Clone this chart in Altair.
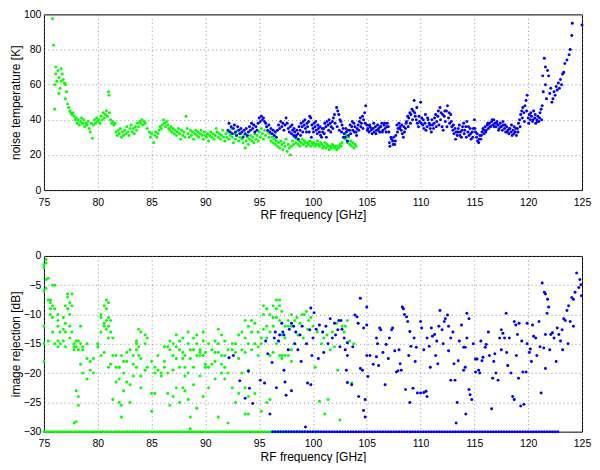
import altair as alt
import pandas as pd

# noise temperature [K] vs RF frequency [GHz]
green_temp = [
    (75.8, 97.5), (75.9, 82.5), (76.0, 46), (76.0, 60), (76.1, 70), (76.1, 66), (76.2, 62), (76.3, 68),
    (76.4, 64), (76.4, 55), (76.5, 58), (76.6, 69), (76.6, 62), (76.7, 66), (76.8, 63), (76.9, 61),
    (77.0, 52), (77.0, 60), (77.1, 56), (77.2, 49), (77.3, 47), (77.4, 45), (77.5, 44), (77.6, 43),
    (77.7, 44), (77.8, 42), (77.9, 40), (78.0, 41), (78.1, 38), (78.2, 40), (78.3, 37), (78.4, 39),
    (78.5, 41), (78.6, 38), (78.7, 40), (78.8, 36), (78.9, 38), (79.0, 37), (79.1, 39), (79.2, 35),
    (79.3, 33), (79.4, 38), (79.5, 29.5), (79.6, 37), (79.7, 40), (79.8, 38), (79.9, 41), (80.0, 39),
    (80.1, 40), (80.2, 38), (80.3, 42), (80.4, 40), (80.5, 44), (80.6, 41), (80.7, 43), (80.8, 45),
    (80.9, 42), (81.0, 56), (81.05, 54), (81.1, 44), (81.2, 40), (81.3, 38), (81.4, 39), (81.5, 37),
    (81.6, 38), (81.7, 33), (81.8, 31), (81.9, 34), (82.0, 32), (82.1, 35), (82.2, 30), (82.3, 33),
    (82.4, 31), (82.5, 34), (82.6, 32), (82.7, 36), (82.8, 33), (82.9, 31), (83.0, 35), (83.1, 37),
    (83.2, 33), (83.3, 35), (83.4, 32), (83.5, 36), (83.6, 34), (83.7, 38), (83.8, 36), (83.9, 39),
    (84.0, 38), (84.1, 40), (84.2, 37), (84.3, 39), (84.4, 38), (84.6, 35), (84.8, 33), (84.9, 30),
    (85.0, 32), (85.2, 27), (85.3, 31), (85.4, 33), (85.5, 30), (85.6, 32), (85.7, 34), (85.8, 36),
    (85.9, 35), (86.0, 37), (86.1, 40), (86.2, 38), (86.3, 36), (86.4, 39), (86.5, 37), (86.6, 35),
    (86.7, 34), (86.8, 36), (86.9, 33), (87.0, 35), (87.1, 32), (87.2, 34), (87.3, 31), (87.4, 33),
    (87.5, 35), (87.6, 32), (87.7, 29), (87.8, 34), (87.9, 31), (88.0, 33), (88.1, 30), (88.2, 42),
    (88.3, 35), (88.4, 32), (88.5, 30), (88.6, 34), (88.7, 31), (88.8, 33), (88.9, 29), (89.0, 32),
    (89.1, 34), (89.2, 31), (89.3, 33), (89.4, 30), (89.5, 32), (89.6, 34), (89.7, 31), (89.8, 29),
    (89.9, 33), (90.0, 31), (90.1, 30), (90.2, 32), (90.3, 28), (90.4, 31), (90.5, 33), (90.6, 30),
    (90.7, 32), (90.8, 29), (90.9, 31), (91.0, 35), (91.1, 33), (91.2, 30), (91.3, 32), (91.4, 29),
    (91.5, 31), (91.6, 34), (91.7, 30), (91.8, 28), (91.9, 32), (92.0, 30), (92.1, 33), (92.2, 29),
    (92.3, 31), (92.4, 35), (92.5, 30), (92.6, 27), (92.7, 32), (92.8, 29), (92.9, 31), (93.0, 34),
    (93.1, 28), (93.2, 30), (93.3, 32), (93.4, 29), (93.5, 27), (93.6, 31), (93.7, 24), (93.8, 28),
    (93.9, 30), (94.0, 26), (94.1, 29), (94.2, 31), (94.3, 28), (94.4, 30), (94.5, 27), (94.6, 32),
    (94.7, 29), (94.8, 31), (94.9, 28), (95.0, 33), (95.1, 30), (95.2, 35), (95.3, 32), (95.4, 29),
    (95.5, 34), (95.6, 31), (95.7, 36), (95.8, 33), (95.9, 30), (96.0, 32), (96.1, 28), (96.2, 30),
    (96.3, 27), (96.4, 29), (96.5, 26), (96.6, 28), (96.7, 25), (96.8, 27), (96.9, 24), (97.0, 28),
    (97.1, 26), (97.2, 23), (97.3, 27), (97.4, 25), (97.5, 29), (97.6, 22), (97.7, 26), (97.8, 24),
    (97.9, 20), (98.0, 25), (98.1, 28), (98.2, 26), (98.3, 30), (98.4, 27), (98.5, 29), (98.6, 26),
    (98.7, 28), (98.8, 25), (98.9, 27), (99.0, 29), (99.1, 26), (99.2, 28), (99.3, 27), (99.4, 25),
    (99.5, 27), (99.6, 26), (99.7, 28), (99.8, 25), (99.9, 27), (100.0, 26), (100.1, 27), (100.2, 25),
    (100.3, 26), (100.4, 28), (100.5, 26), (100.6, 25), (100.7, 27), (100.8, 26), (100.9, 24), (101.0, 25),
    (101.1, 27), (101.2, 24), (101.3, 26), (101.4, 25), (101.5, 23), (101.6, 25), (101.7, 24), (101.8, 26),
    (101.9, 25), (102.0, 24), (102.1, 25), (102.2, 23), (102.3, 25), (102.4, 24), (102.5, 26), (102.6, 25),
    (102.7, 27), (102.8, 30), (102.9, 32), (103.0, 29), (103.1, 31), (103.2, 27), (103.3, 30), (103.4, 26),
    (103.5, 28), (103.6, 25), (103.7, 27), (103.8, 24), (103.9, 26), (104.0, 25),
]

blue_temp = [
    (92.1, 34), (92.2, 38), (92.3, 33), (92.4, 36), (92.5, 32), (92.6, 35), (92.7, 37), (92.8, 33),
    (92.9, 31), (93.0, 36), (93.1, 34), (93.2, 32), (93.3, 35), (93.4, 33), (93.5, 30), (93.6, 34),
    (93.7, 32), (93.8, 35), (93.9, 31), (94.0, 33), (94.1, 36), (94.2, 34), (94.3, 38), (94.4, 35),
    (94.5, 37), (94.6, 33), (94.7, 36), (94.8, 34), (94.9, 38), (95.0, 41), (95.1, 39), (95.2, 42),
    (95.3, 40), (95.4, 41), (95.5, 39), (95.6, 38), (95.7, 36), (95.8, 34), (95.9, 37), (96.0, 33),
    (96.1, 35), (96.2, 32), (96.3, 34), (96.4, 31), (96.5, 33), (96.6, 30), (96.7, 34), (96.8, 37),
    (96.9, 35), (97.0, 39), (97.1, 36), (97.2, 38), (97.3, 34), (97.4, 37), (97.5, 41), (97.6, 38),
    (97.7, 35), (97.8, 33), (97.9, 36), (98.0, 32), (98.1, 34), (98.2, 31), (98.3, 33), (98.4, 30),
    (98.5, 34), (98.6, 32), (98.7, 36), (98.8, 34), (98.9, 38), (99.0, 36), (99.1, 39), (99.2, 37),
    (99.3, 35), (99.4, 33), (99.5, 36), (99.6, 39), (99.7, 42), (99.8, 41), (99.9, 37), (100.0, 35),
    (100.1, 38), (100.2, 36), (100.3, 34), (100.4, 32), (100.5, 35), (100.6, 33), (100.7, 31), (100.8, 30),
    (100.9, 33), (101.0, 35), (101.1, 38), (101.2, 36), (101.3, 39), (101.4, 37), (101.5, 40), (101.6, 38),
    (101.7, 36), (101.8, 39), (101.9, 41), (102.0, 43), (102.2, 47), (102.3, 45), (102.4, 43), (102.5, 40),
    (102.6, 39), (102.7, 37), (102.8, 35), (102.9, 32), (103.0, 30), (103.1, 33), (103.2, 28), (103.3, 31),
    (103.4, 34), (103.5, 32), (103.6, 36), (103.7, 34), (103.8, 38), (103.9, 36), (104.0, 33), (104.1, 35),
    (104.2, 37), (104.3, 39), (104.4, 41), (104.5, 38), (104.6, 42), (104.7, 40), (104.8, 44), (104.9, 48),
    (105.0, 37), (105.1, 35), (105.2, 33), (105.3, 36), (105.4, 34), (105.5, 32), (105.6, 35), (105.7, 33),
    (105.8, 36), (105.9, 34), (106.0, 37), (106.1, 35), (106.2, 33), (106.3, 36), (106.4, 38), (106.5, 34),
    (106.6, 37), (106.7, 35), (106.8, 33), (106.9, 38), (107.0, 36), (107.1, 27), (107.15, 25), (107.3, 29),
    (107.4, 28), (107.5, 30), (107.6, 26), (107.7, 31), (107.8, 37), (107.9, 35), (108.0, 38), (108.1, 36),
    (108.2, 34), (108.3, 32), (108.4, 30), (108.5, 33), (108.6, 35), (108.7, 39), (108.8, 42), (108.9, 41),
    (109.0, 44), (109.1, 43), (109.2, 46), (109.3, 45), (109.4, 51), (109.5, 42), (109.6, 40), (109.7, 38),
    (109.8, 36), (109.9, 39), (110.0, 50), (110.1, 41), (110.2, 37), (110.3, 35), (110.4, 38), (110.5, 34),
    (110.6, 36), (110.7, 40), (110.8, 38), (110.9, 35), (111.0, 33), (111.1, 37), (111.2, 35), (111.3, 41),
    (111.4, 43), (111.5, 39), (111.6, 42), (111.7, 37), (111.8, 47), (111.9, 44), (112.0, 36), (112.1, 34),
    (112.2, 42), (112.3, 39), (112.4, 45), (112.5, 48), (112.6, 41), (112.7, 38), (112.8, 43), (112.9, 36),
    (113.0, 34), (113.1, 32), (113.2, 35), (113.3, 33), (113.4, 31), (113.5, 35), (113.6, 37), (113.7, 33),
    (113.8, 30), (113.9, 36), (114.0, 38), (114.1, 34), (114.2, 36), (114.3, 39), (114.4, 33), (114.5, 31),
    (114.6, 35), (114.7, 29), (114.8, 33), (114.9, 35), (115.0, 40), (115.1, 33), (115.2, 30), (115.3, 28),
    (115.4, 27), (115.5, 31), (115.6, 29), (115.7, 33), (115.8, 35), (115.9, 32), (116.0, 36), (116.1, 34),
    (116.2, 37), (116.3, 35), (116.4, 38), (116.5, 36), (116.6, 39), (116.7, 37), (116.8, 40), (116.9, 38),
    (117.0, 36), (117.1, 39), (117.2, 37), (117.3, 35), (117.4, 38), (117.5, 36), (117.6, 34), (117.7, 37),
    (117.8, 35), (117.9, 33), (118.0, 36), (118.1, 34), (118.2, 32), (118.3, 35), (118.4, 33), (118.5, 31),
    (118.6, 34), (118.7, 36), (118.8, 33), (118.9, 31), (119.0, 35), (119.1, 38), (119.2, 40), (119.3, 43),
    (119.4, 45), (119.5, 47), (119.6, 44), (119.7, 48), (119.8, 51), (119.9, 54), (120.0, 41), (120.1, 43),
    (120.2, 40), (120.3, 42), (120.4, 39), (120.5, 45), (120.6, 41), (120.7, 38), (120.8, 40), (120.9, 42),
    (121.0, 39), (121.1, 44), (121.2, 46), (121.3, 48), (121.35, 65), (121.4, 56), (121.5, 75), (121.6, 70),
    (121.6, 60), (121.7, 52), (121.8, 68), (121.9, 65), (122.0, 55), (122.1, 58), (122.2, 50), (122.3, 52),
    (122.4, 56), (122.5, 54), (122.6, 59), (122.7, 57), (122.8, 61), (122.9, 58), (123.0, 63), (123.1, 60),
    (123.2, 66), (123.3, 67), (123.4, 72), (123.6, 74), (123.8, 77), (123.9, 80), (124.05, 88), (124.1, 95),
    (125.0, 94),
]

# second pass of blue sweep points, read between the first ones
blue_temp_extra = [
    (98.05, 37), (98.25, 35), (98.45, 31), (98.65, 29), (98.85, 31), (99.05, 33), (99.25, 40), (99.45, 38),
    (99.65, 33), (99.85, 30), (100.05, 33), (100.25, 39), (100.45, 37), (100.65, 36), (100.85, 35), (101.05, 32),
    (101.25, 30), (101.45, 34), (101.65, 33), (101.85, 35), (102.05, 38), (102.25, 36), (102.45, 34), (102.65, 33),
    (102.85, 30), (103.05, 35), (103.25, 34), (103.45, 37), (103.65, 39), (103.85, 33), (104.05, 31), (104.25, 34),
    (104.45, 36), (104.65, 35), (104.85, 38), (105.05, 34), (105.25, 37), (105.45, 35), (105.65, 38), (105.85, 32),
    (106.05, 34), (106.25, 36), (106.45, 33), (106.65, 38), (106.85, 36), (107.05, 33), (107.25, 30), (107.45, 26),
    (107.65, 28), (107.85, 33), (108.05, 35), (108.25, 37), (108.45, 36), (108.65, 38), (108.85, 36), (109.05, 38),
    (109.25, 40), (109.45, 44), (109.65, 47), (109.85, 42), (110.05, 38), (110.25, 40), (110.45, 43), (110.65, 41),
    (110.85, 37), (111.05, 40), (111.25, 38), (111.45, 36), (111.65, 45), (111.85, 40), (112.05, 43), (112.25, 45),
    (112.45, 36), (112.65, 44), (112.85, 39), (113.05, 37), (113.25, 29), (113.45, 33), (113.65, 31), (113.85, 34),
    (114.05, 32), (114.25, 30), (114.45, 36), (114.65, 32), (114.85, 30), (115.05, 35), (115.25, 32), (115.45, 29),
    (115.65, 31), (115.85, 34), (116.05, 33), (116.25, 38), (116.45, 36), (116.65, 40), (116.85, 36), (117.05, 38),
    (117.25, 34), (117.45, 36), (117.65, 39), (117.85, 37), (118.05, 33), (118.25, 35), (118.45, 37), (118.65, 32),
    (118.85, 35), (119.05, 33), (119.25, 36), (119.45, 41), (119.65, 39), (119.85, 45), (120.05, 38), (120.25, 44),
    (120.45, 40), (120.65, 43), (120.85, 39), (121.05, 41), (121.25, 40),
]

# image rejection [dB] vs RF frequency [GHz]
green_rej = [
    (75.0, -2), (75.0, -1.5), (75.0, -6), (75.0, -12), (75.0, -15), (75.0, -18), (75.2, -0.6), (75.2, -1.2),
    (75.2, -4), (75.2, -5.5), (75.4, -3.8), (75.4, -7.5), (75.4, -14.5), (75.6, -7.5), (75.6, -8), (75.6, -9),
    (75.6, -10), (75.8, -5), (75.8, -8.5), (75.8, -10.5), (75.8, -13), (76.0, -5), (76.0, -9), (76.0, -15),
    (76.3, -10), (76.3, -11), (76.3, -12), (76.3, -14.5), (76.3, -15.5), (76.5, -13), (76.5, -15), (76.8, -10.5),
    (76.8, -14.5), (76.8, -12.5), (77.0, -8.5), (77.0, -11.5), (77.0, -13), (77.0, -15.5), (77.2, -6.5), (77.2, -7),
    (77.2, -9), (77.4, -8), (77.4, -10), (77.4, -12), (77.4, -14), (77.6, -6.5), (77.6, -8.5), (77.6, -13),
    (77.8, -15), (77.8, -15.5), (77.8, -16), (77.8, -28.5), (78.0, -14.5), (78.0, -15.5), (78.0, -28.3), (78.0, -23),
    (78.2, -24), (78.2, -25.5), (78.2, -14.5), (78.2, -16), (78.4, -15), (78.4, -18.5), (78.4, -12), (78.6, -16),
    (78.6, -20), (78.6, -15.5), (79.0, -17.5), (79.0, -21), (79.0, -15), (79.3, -18), (79.3, -19.5), (79.6, -17.5),
    (79.6, -20), (80.0, -15), (80.0, -15.5), (80.3, -10), (80.3, -10.5), (80.3, -13), (80.3, -17), (80.6, -8.5),
    (80.6, -11.5), (80.6, -12), (80.6, -16.5), (80.8, -9), (80.8, -11), (80.8, -12.5), (80.8, -7.5), (81.0, -8),
    (81.0, -10.5), (81.0, -12), (81.0, -14), (81.0, -19), (81.2, -11), (81.2, -13), (81.2, -18.5), (81.4, -14),
    (81.4, -17), (81.4, -24.5), (81.7, -17), (81.7, -19), (81.7, -21.5), (82.0, -19), (82.0, -21), (82.0, -25),
    (82.2, -17), (82.2, -25.5), (82.2, -27.5), (82.4, -18), (82.4, -20), (82.4, -23), (82.7, -16.5), (82.7, -18),
    (82.7, -21.5), (83.0, -16), (83.0, -22), (83.0, -25), (83.3, -17), (83.3, -18.5), (83.3, -20.5), (83.6, -14.5),
    (83.6, -15), (83.6, -16), (83.6, -19), (83.8, -12.5), (83.8, -15.5), (83.8, -17), (84.0, -13), (84.0, -17.5),
    (84.0, -22.5), (84.0, -20.5), (84.4, -13.5), (84.4, -15), (84.4, -19.5), (84.6, -14), (84.6, -19), (85.0, -18),
    (85.0, -23.5), (85.0, -26.5), (85.3, -19), (85.3, -20), (85.3, -23.5), (85.6, -17), (85.6, -19.5), (85.9, -20),
    (85.9, -20.5), (86.2, -18), (86.2, -19), (86.2, -15.5), (86.5, -15.5), (86.5, -20), (86.5, -23.5), (86.7, -14.5),
    (86.7, -16), (86.7, -25.5), (87.0, -15), (87.0, -17), (87.0, -19.5), (87.0, -24), (87.3, -13.5), (87.3, -15.5),
    (87.3, -17.5), (87.3, -22.5), (87.6, -14.5), (87.6, -16), (87.6, -19), (87.6, -25), (87.9, -14), (87.9, -16.5),
    (87.9, -17.5), (87.9, -22.5), (88.1, -17), (88.1, -19), (88.1, -20.5), (88.1, -23), (88.4, -13), (88.4, -15),
    (88.4, -20), (88.4, -24.5), (88.6, -16), (88.6, -17.5), (88.6, -27.5), (88.6, -29.5), (88.9, -14), (88.9, -16),
    (88.9, -19), (88.9, -22), (89.2, -13.5), (89.2, -15), (89.2, -17), (89.2, -26), (89.5, -16), (89.5, -16.5),
    (89.5, -17), (89.5, -20.5), (89.8, -13), (89.8, -14.5), (89.8, -17), (89.8, -24), (90.0, -16.5), (90.0, -18.5),
    (90.0, -19), (90.3, -15), (90.3, -19), (90.3, -22.5), (90.6, -16), (90.6, -18.5), (90.9, -14.5), (90.9, -16.5),
    (90.9, -18), (90.9, -21), (91.2, -12.5), (91.2, -15), (91.2, -16.5), (91.2, -27.5), (91.5, -13.5), (91.5, -17),
    (91.5, -18.5), (91.5, -20), (91.8, -14.5), (91.8, -17), (91.8, -19), (91.8, -21), (92.1, -16), (92.1, -20),
    (92.1, -28.5), (92.5, -15), (92.5, -16), (92.5, -22.5), (92.8, -15), (92.8, -16.5), (92.8, -25), (93.1, -13.5),
    (93.1, -17.5), (93.1, -23.5), (93.4, -13), (93.4, -16), (93.4, -20), (93.7, -11), (93.7, -14), (93.7, -16.5),
    (93.7, -22.5), (93.7, -27), (94.0, -12), (94.0, -15), (94.0, -19.5), (94.0, -24), (94.0, -27), (94.3, -11),
    (94.3, -13), (94.3, -16), (94.6, -11.5), (94.6, -15), (94.6, -23.5), (94.9, -13), (94.9, -15.5), (94.9, -17),
    (95.2, -14), (95.2, -15), (95.2, -26.5), (95.4, -8.5), (95.4, -10), (95.4, -12.5), (95.7, -9), (95.7, -12),
    (95.7, -14), (95.7, -25), (96.0, -10), (96.0, -13), (96.0, -17), (96.0, -24.5), (96.3, -8.5), (96.3, -10.5),
    (96.3, -12), (96.3, -16.5), (96.6, -7.5), (96.6, -9), (96.6, -10.5), (96.6, -15), (96.9, -7.5), (96.9, -8.5),
    (96.9, -11), (96.9, -17), (97.1, -9.5), (97.1, -13.5), (97.1, -17), (97.1, -17.5), (97.4, -12), (97.4, -14),
    (97.4, -17), (97.7, -11), (97.7, -12), (97.7, -17), (98.0, -10), (98.0, -12), (98.0, -16), (98.0, -18),
    (98.3, -11), (98.5, -10.5), (98.6, -13.5), (98.8, -11.5), (99.0, -10), (99.1, -14), (99.2, -10), (99.4, -9.5),
    (99.5, -12.5), (99.6, -11), (99.8, -10.5), (100.0, -12), (100.2, -19), (100.4, -13), (100.6, -24.8), (100.8, -15),
    (101.0, -14), (101.1, -27), (101.3, -13.5), (101.4, -24.5), (101.6, -16), (101.8, -13), (102.0, -15.5), (102.2, -11.5),
    (102.3, -19.5), (102.5, -28), (102.7, -12), (102.9, -13), (103.0, -12), (103.2, -11), (103.4, -14.5), (103.6, -21.7),
    (103.8, -15),
]

blue_rej = [
    (92.2, -17.4), (92.6, -17), (93.2, -21.3), (93.7, -24.3), (94.0, -19.7), (94.1, -22.6), (94.4, -25.2), (95.1, -21.2),
    (95.5, -21.7), (95.6, -14.5), (95.8, -16.7), (96.0, -27), (96.2, -18.2), (96.4, -14), (96.5, -13), (96.6, -22.5),
    (96.8, -14.5), (96.9, -13.5), (97.1, -11.5), (97.2, -13), (97.3, -13.5), (97.3, -19.5), (97.4, -21.5), (97.5, -23.8),
    (97.7, -16), (97.8, -12.5), (98.0, -23), (98.0, -11.5), (98.2, -12), (98.3, -15), (98.4, -13), (98.6, -16),
    (98.8, -13.5), (98.9, -18), (99.0, -12), (99.3, -29.2), (99.4, -15), (99.5, -21.7), (99.7, -12.6), (99.8, -8.9),
    (99.8, -22), (99.9, -17), (100.0, -14), (100.1, -9.7), (100.3, -12.5), (100.5, -17.5), (100.6, -11.8), (100.9, -13),
    (101.0, -16.5), (101.2, -12), (101.4, -15), (101.6, -10.7), (101.8, -14), (102.0, -11.5), (102.1, -13.5), (102.3, -12.6),
    (102.4, -11), (102.5, -15.5), (102.6, -11), (102.7, -12.5), (102.9, -14), (103.0, -16), (103.1, -19.5), (103.2, -14.8),
    (103.2, -17), (103.2, -21.6), (103.6, -22), (103.7, -15.5), (103.9, -10.1), (104.1, -10.4), (104.2, -11.5), (104.25, -24),
    (104.4, -7.2), (104.4, -19.2), (104.6, -19.5), (104.7, -12.3), (104.7, -26.4), (104.85, -24.5), (104.85, -27.5), (105.0, -8.7),
    (105.0, -11.8), (105.0, -17), (105.1, -20.6), (105.3, -17), (105.6, -18.5), (105.9, -14), (105.9, -17.2), (106.0, -15),
    (106.1, -18.7), (106.2, -12.3), (106.3, -12.6), (106.5, -16.5), (106.7, -22), (106.8, -15.1), (107.0, -17.5), (107.1, -14),
    (107.3, -12.6), (107.4, -12.3), (107.6, -16.2), (107.75, -19.8), (107.9, -19.6), (108.0, -16), (108.1, -18.4), (108.2, -19.5),
    (108.3, -8.7), (108.4, -9), (108.5, -10), (108.6, -22.8), (108.7, -10.4), (108.8, -11.2), (108.9, -17), (109.0, -12.9),
    (109.0, -25), (109.1, -15.4), (109.3, -22.6), (109.4, -14), (109.5, -18), (109.6, -15.6), (109.7, -23.4), (110.0, -11.2),
    (110.0, -23.4), (110.1, -12.3), (110.3, -23.3), (110.3, -16), (110.5, -23.1), (110.6, -24), (110.6, -14), (110.8, -15.4),
    (110.9, -19), (111.0, -12.3), (111.1, -13.7), (111.3, -13.4), (111.4, -17), (111.5, -14.5), (111.6, -18.4), (111.7, -12),
    (111.8, -9.3), (112.0, -12.6), (112.1, -15), (112.2, -11.2), (112.3, -10.7), (112.5, -10.1), (112.6, -12), (112.6, -16.2),
    (112.8, -14), (112.8, -21.2), (113.0, -13), (113.1, -18.4), (113.2, -21.2), (113.3, -28.5), (113.4, -25), (113.5, -17.9),
    (113.6, -14.5), (113.8, -11.8), (114.0, -15.6), (114.0, -19.5), (114.15, -15.6), (114.15, -19), (114.2, -27), (114.3, -9.8),
    (114.3, -14), (114.5, -10.7), (114.5, -22.8), (114.6, -23.7), (114.75, -24.5), (114.9, -15), (115.1, -17.6), (115.1, -19.8),
    (115.25, -17.6), (115.4, -19.5), (115.5, -20), (115.6, -14.5), (115.7, -17.9), (115.8, -17.3), (116.0, -15.6), (116.1, -15.1),
    (116.3, -13), (116.4, -17), (116.6, -26.1), (116.7, -20.9), (116.8, -18), (116.9, -16.7), (117.0, -20), (117.2, -21.2),
    (117.35, -14), (117.5, -12.6), (117.5, -16), (117.65, -13.2), (117.8, -14), (117.95, -9.8), (118.0, -16.5), (118.1, -18.7),
    (118.25, -14), (118.4, -20), (118.55, -24), (118.7, -24.5), (118.7, -11.2), (118.85, -11.8), (118.9, -17), (119.0, -13.4),
    (119.1, -20.9), (119.15, -11.5), (119.3, -25.6), (119.4, -14.5), (119.5, -19.8), (119.6, -25.3), (119.8, -19.8), (119.9, -11.5),
    (119.9, -15), (120.1, -16.5), (120.2, -15.9), (120.3, -18), (120.4, -11.8), (120.5, -13.7), (120.7, -14), (120.8, -17),
    (121.0, -11.2), (121.1, -15.5), (121.2, -23.4), (121.3, -4.6), (121.45, -15.7), (121.5, -6.2), (121.6, -6.5), (121.6, -13.4),
    (121.6, -19.2), (121.75, -9.8), (121.8, -7.4), (121.9, -8.7), (122.0, -16), (122.1, -13.4), (122.25, -13.1), (122.4, -14),
    (122.6, -18), (122.7, -12.3), (122.85, -13.4), (123.0, -14.5), (123.15, -12.6), (123.2, -16), (123.3, -10.7), (123.45, -11),
    (123.6, -9.3), (123.7, -15), (123.75, -8.5), (123.9, -11.2), (124.05, -7.1), (124.2, -7.4), (124.2, -12), (124.35, -6.2),
    (124.5, -2.9), (124.7, -5.4), (124.8, -4), (124.9, -4.9), (124.95, -6.8),
]

# points clipped at the -30 dB floor
floor_db = -30
green_floor = [
    75.0, 75.25, 75.5, 75.75, 76.0, 76.25, 76.5, 76.75, 77.0, 77.25, 77.5, 77.75, 78.0, 78.25, 78.5, 78.75,
    79.0, 79.25, 79.5, 79.75, 80.0, 80.25, 80.5, 80.75, 81.0, 81.25, 81.5, 81.75, 82.0, 82.25, 82.5, 82.75,
    83.0, 83.25, 83.5, 83.75, 84.0, 84.25, 84.5, 84.75, 85.0, 85.25, 85.5, 85.75, 86.0, 86.25, 86.5, 86.75,
    87.0, 87.25, 87.5, 87.75, 88.0, 88.25, 88.5, 88.75, 89.0, 89.25, 89.5, 89.75, 90.0, 90.25, 90.5, 90.75,
    91.0, 91.25, 91.5, 91.75, 92.0, 92.25, 92.5, 92.75, 93.0, 93.25, 93.5, 93.75, 94.0, 94.25, 94.5, 94.75,
    95.0, 95.25, 95.5, 95.75, 96.0, 96.25, 96.5, 96.75, 97.0, 97.25, 97.5, 97.75, 98.0, 98.25, 98.5, 98.75,
    99.0, 99.25, 99.5, 99.75, 100.0, 100.25, 100.5,
]
blue_floor = [
    96.25, 96.5, 96.75, 97.0, 97.25, 97.5, 97.75, 98.0, 98.25, 98.5, 98.75, 99.0, 99.25, 99.5, 99.75, 100.0,
    100.25, 100.5, 100.75, 101.0, 101.25, 101.5, 101.75, 102.0, 102.25, 102.5, 102.75, 103.0, 103.25, 103.5, 103.75,
    104.0, 104.25, 104.5, 104.75, 105.0, 105.25, 105.5, 105.75, 106.0, 106.25, 106.5, 106.75, 107.0, 107.25, 107.5,
    107.75, 108.0, 108.25, 108.5, 108.75, 109.0, 109.25, 109.5, 109.75, 110.0, 110.25, 110.5, 110.75, 111.0, 111.25,
    111.5, 111.75, 112.0, 112.25, 112.5, 112.75, 113.0, 113.25, 113.5, 113.75, 114.0, 114.25, 114.5, 114.75, 115.0,
    115.25, 115.5, 115.75, 116.0, 116.25, 116.5, 116.75, 117.0, 117.25, 117.5, 117.75, 118.0, 118.25, 118.5, 118.75,
    119.0, 119.25, 119.5, 119.75, 120.0, 120.25, 120.5, 120.75, 121.0, 121.25, 121.5, 121.75, 122.0, 122.25, 122.5,
    122.75,
]

freq_ticks = [75, 80, 85, 90, 95, 100, 105, 110, 115, 120, 125]
temp_ticks = [0, 20, 40, 60, 80, 100]
rej_ticks = [-30, -25, -20, -15, -10, -5, 0]


def to_frame(pairs, band):
    return pd.DataFrame({'freq': [p[0] for p in pairs], 'val': [p[1] for p in pairs], 'band': band})


top_df = pd.concat([
    to_frame(green_temp, 'g'),
    to_frame(blue_temp, 'b'),
    to_frame(blue_temp_extra, 'b'),
])
bot_df = pd.concat([
    to_frame(green_rej, 'g'),
    to_frame([(f, floor_db) for f in green_floor], 'g'),
    to_frame(blue_rej, 'b'),
    to_frame([(f, floor_db) for f in blue_floor], 'b'),
])


def panel(df, ytitle, ydomain, yticks):
    return alt.Chart(df).mark_circle(size=9, opacity=1).encode(
        x=alt.X('freq:Q', scale=alt.Scale(domain=[75, 125], nice=False),
                axis=alt.Axis(values=freq_ticks, title='RF frequency [GHz]', labelFlush=False)),
        y=alt.Y('val:Q', scale=alt.Scale(domain=ydomain, nice=False),
                axis=alt.Axis(values=yticks, title=ytitle)),
        color=alt.Color('band:N', scale=alt.Scale(domain=['g', 'b'], range=['#00ff00', '#0000ff']), legend=None),
    ).properties(width=539, height=176)


top = panel(top_df, 'noise temperature [K]', [0, 100], temp_ticks)
bottom = panel(bot_df, 'image rejection [dB]', [-30, 0], rej_ticks)

chart = alt.vconcat(top, bottom, spacing=29).properties(
    padding={'top': 0, 'left': 0, 'right': 0, 'bottom': 0}
).configure_view(
    stroke='black', strokeWidth=1
).configure_axis(
    labelFont='Liberation Sans', titleFont='Liberation Sans',
    labelFontSize=10.5, titleFontSize=12, titleFontWeight='normal',
    labelColor='black', titleColor='black',
    ticks=False, domain=False,
    gridColor='#777777', gridDash=[1, 3], gridOpacity=0.8,
).configure_axisX(
    labelPadding=7, titlePadding=2
).configure_axisY(
    labelPadding=3, titlePadding=1
)

chart.save("out.html", embed_options={"renderer": "svg", "actions": False})
